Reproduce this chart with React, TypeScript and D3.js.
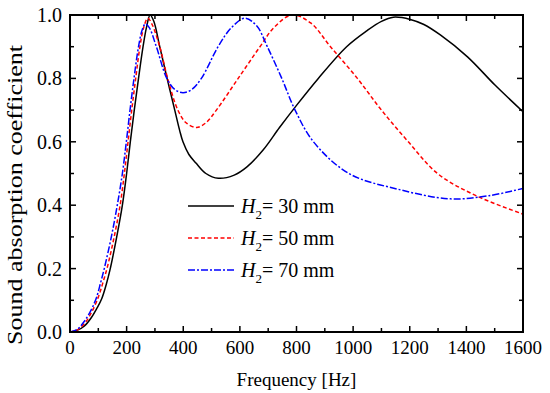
import React from "react";
import * as d3 from "d3";

// Frequency [Hz] / absorption coefficient
const freq30 = [0, 25, 50, 75, 95, 112, 128, 141, 165, 185, 200, 213, 227, 242, 258, 270, 283, 296, 317, 343, 370, 387, 399, 420, 446, 480, 524, 580, 624, 682, 740, 800, 877, 977, 1048, 1100, 1142, 1202, 1250, 1308, 1404, 1501, 1600];
const alpha30 = [0, 0.005, 0.018, 0.045, 0.075, 0.105, 0.15, 0.195, 0.3, 0.4, 0.5, 0.6, 0.7, 0.8, 0.9, 0.96, 1.0, 0.98, 0.9, 0.8, 0.7, 0.637, 0.6, 0.56, 0.532, 0.5, 0.485, 0.495, 0.52, 0.574, 0.645, 0.715, 0.8, 0.9, 0.95, 0.98, 0.993, 0.986, 0.97, 0.937, 0.868, 0.779, 0.695];

const freq50 = [0, 25, 50, 75, 100, 116, 132, 156, 177, 192, 205, 218, 232, 247, 260, 275, 290, 317, 345, 381, 410, 447, 480, 517, 594, 671, 720, 784, 850, 920, 1015, 1100, 1195, 1298, 1434, 1600];
const alpha50 = [0, 0.006, 0.025, 0.06, 0.11, 0.155, 0.205, 0.3, 0.4, 0.5, 0.6, 0.7, 0.8, 0.9, 0.96, 0.99, 0.97, 0.9, 0.8, 0.7, 0.66, 0.645, 0.66, 0.7, 0.8, 0.9, 0.96, 1.0, 0.975, 0.9, 0.8, 0.7, 0.6, 0.5, 0.43, 0.372];

const freq70 = [0, 25, 50, 75, 94, 108, 121, 146, 167, 185, 199, 212, 226, 242, 254, 266, 280, 305, 342, 370, 399, 430, 464, 523, 570, 618, 660, 697, 748, 795, 860, 985, 1160, 1343, 1480, 1600];
const alpha70 = [0, 0.008, 0.033, 0.07, 0.11, 0.155, 0.2, 0.3, 0.4, 0.5, 0.6, 0.7, 0.8, 0.9, 0.95, 0.972, 0.96, 0.9, 0.8, 0.765, 0.755, 0.765, 0.8, 0.9, 0.96, 0.99, 0.965, 0.9, 0.8, 0.7, 0.6, 0.5, 0.45, 0.42, 0.43, 0.453];

const xTicks = [0, 200, 400, 600, 800, 1000, 1200, 1400, 1600];
const yTicks = [0, 0.2, 0.4, 0.6, 0.8, 1.0];
const legendLabels = ["30 mm", "50 mm", "70 mm"];

const W = 550;
const H = 393;
const left = 70, right = 523, top = 15, bottom = 332;
const font = "'Liberation Serif', 'Times New Roman', serif";

export default function App() {
  const x = d3.scaleLinear().domain([0, 1600]).range([left, right]);
  const y = d3.scaleLinear().domain([0, 1]).range([bottom, top]);

  const line = d3
    .line<[number, number]>()
    .x((d) => x(d[0]))
    .y((d) => y(d[1]))
    .curve(d3.curveCatmullRom.alpha(0.5));

  const series = [
    { f: freq30, a: alpha30, color: "#000000", dash: "none" },
    { f: freq50, a: alpha50, color: "#ff0000", dash: "4,2.5" },
    { f: freq70, a: alpha70, color: "#0000ff", dash: "7,2,2,2" },
  ];

  const xMinor = d3.range(100, 1600, 200);
  const yMinor = d3.range(0.1, 1, 0.2);
  const major = 6, minor = 4;

  return (
    <svg width={W} height={H} style={{ position: "absolute", left: 0, top: 0 }}>
      <rect width={W} height={H} fill="#fff" />
      <defs>
        <clipPath id="plot">
          <rect x={left} y={top - 2} width={right - left} height={bottom - top + 2} />
        </clipPath>
      </defs>

      <g clipPath="url(#plot)">
        {series.map((s, i) => (
          <path
            key={i}
            d={line(s.f.map((f, j) => [f, s.a[j]] as [number, number])) || ""}
            fill="none"
            stroke={s.color}
            strokeWidth={1.5}
            strokeDasharray={s.dash}
          />
        ))}
      </g>

      {/* ticks, all four sides, inward */}
      <g stroke="#000" strokeWidth={1.5}>
        {xTicks.map((t) => (
          <g key={"xt" + t}>
            <line x1={x(t)} x2={x(t)} y1={bottom} y2={bottom - major} />
            <line x1={x(t)} x2={x(t)} y1={top} y2={top + major} />
          </g>
        ))}
        {xMinor.map((t) => (
          <g key={"xm" + t}>
            <line x1={x(t)} x2={x(t)} y1={bottom} y2={bottom - minor} />
            <line x1={x(t)} x2={x(t)} y1={top} y2={top + minor} />
          </g>
        ))}
        {yTicks.map((t) => (
          <g key={"yt" + t}>
            <line x1={left} x2={left + major} y1={y(t)} y2={y(t)} />
            <line x1={right} x2={right - major} y1={y(t)} y2={y(t)} />
          </g>
        ))}
        {yMinor.map((t) => (
          <g key={"ym" + t}>
            <line x1={left} x2={left + minor} y1={y(t)} y2={y(t)} />
            <line x1={right} x2={right - minor} y1={y(t)} y2={y(t)} />
          </g>
        ))}
      </g>

      <rect x={left} y={top} width={right - left} height={bottom - top} fill="none" stroke="#000" strokeWidth={2} />

      <g fontFamily={font} fontSize={19} fill="#000">
        {xTicks.map((t) => (
          <text key={"xl" + t} x={x(t)} y={bottom + 22} textAnchor="middle">
            {t}
          </text>
        ))}
        {yTicks.map((t) => (
          <text key={"yl" + t} x={left - 8} y={y(t) + 7} textAnchor="end" fontSize={20}>
            {t.toFixed(1)}
          </text>
        ))}
        <text x={(left + right) / 2} y={386} textAnchor="middle">
          Frequency [Hz]
        </text>
        <text
          transform={`translate(22,195) rotate(-90)`}
          textAnchor="middle"
          fontSize={20}
          textLength={300}
          lengthAdjust="spacingAndGlyphs"
        >
          Sound absorption coefficient
        </text>
      </g>

      {/* legend */}
      <g fontFamily={font} fontSize={20}>
        {series.map((s, i) => {
          const ly = 206 + i * 32;
          return (
            <g key={"lg" + i}>
              <line x1={188} x2={234} y1={ly} y2={ly} stroke={s.color} strokeWidth={1.5} strokeDasharray={s.dash} />
              <text x={241} y={ly + 7}>
                <tspan fontStyle="italic">H</tspan>
                <tspan fontSize={13} dy={6}>2</tspan>
                <tspan dy={-6}>= {legendLabels[i]}</tspan>
              </text>
            </g>
          );
        })}
      </g>
    </svg>
  );
}
